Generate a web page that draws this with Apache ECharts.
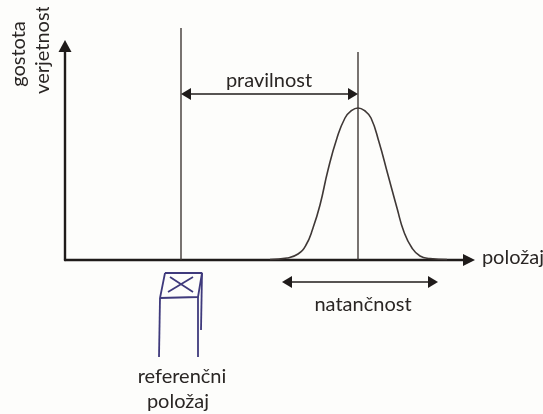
<!DOCTYPE html>
<html><head><meta charset="utf-8">
<style>html,body{margin:0;padding:0;background:#fdfdfb}#c{width:543px;height:414px}</style>
<script src="https://cdn.jsdelivr.net/npm/echarts@6/dist/echarts.min.js"></script>
</head><body><div id="c"></div>
<script>
const curveX = [205,222,233,241,248,255,263,272,280,286,293,300,306,314,323,332,339,347,355,365,382];
const curveY = [0.5,2,6,15,32,55,90,122,142,149,152,149,142,118,85,52,28,12,4,1.5,0.5];
const referenceLine = [[116,0],[116,232]];
const meanLine = [[293,0],[293,208]];
const truenessArrow = [[121,166],[288,166]];
const precisionArrow = [[222,-22],[368,-22]];
const standTop = [[100,-13],[137,-13],[133,-37],[95,-38],[100,-13]];
const standLeft = [[95,-38],[94,-97]];
const standRight = [[133,-37],[133,-97]];
const standBack = [[137,-13],[136,-70]];
const standCrossA = [[105,-17],[128,-32]];
const standCrossB = [[103,-32],[128,-17]];

const ink = '#1f1b1a', lineCol = '#3f3836', standCol = '#3f3a7c';
const font = 'Lato, "Open Sans", sans-serif';
const plain = (data, color, width) => ({type:'line', data, clip:false, symbol:'none', silent:true,
  lineStyle:{color, width}, animation:false});
const arrow = (pts) => ({type:'line', clip:false, silent:true, animation:false, showSymbol:true, showAllSymbol:true,
  lineStyle:{color:ink, width:1.6}, itemStyle:{color:ink, opacity:1},
  data:[
    {value:pts[0], symbol:'triangle', symbolSize:[12,10], symbolRotate:90},
    {value:pts[1], symbol:'triangle', symbolSize:[12,10], symbolRotate:-90}
  ]});
const text = (t, x, y, rot) => ({type:'text', x, y, rotation:rot||0,
  style:{text:t, font:'20px '+font, fill:'#2a2624', textAlign:'center', textVerticalAlign:'middle'}});

const chart = echarts.init(document.getElementById('c'), null, {renderer:'canvas'});
chart.setOption({
  animation:false,
  backgroundColor:'#fdfdfb',
  grid:{left:65, top:46, width:404, height:214},
  xAxis:{type:'value', min:0, max:404, splitLine:{show:false}, axisTick:{show:false}, axisLabel:{show:false},
    axisLine:{show:true, symbol:['none','triangle'], symbolSize:[12,12], lineStyle:{color:ink, width:2.4}}},
  yAxis:{type:'value', min:0, max:214, splitLine:{show:false}, axisTick:{show:false}, axisLabel:{show:false},
    axisLine:{show:true, symbol:['none','triangle'], symbolSize:[13,12], lineStyle:{color:ink, width:2.4}}},
  graphic:[
    text('pravilnost',269,81), text('natančnost',363,305), text('položaj',513,258),
    text('referenčni',182,377), text('položaj',178,402),
    text('gostota',19,54,Math.PI/2), text('verjetnosti',43,47,Math.PI/2),
    {type:'rect', shape:{x:0,y:0,width:543,height:7}, style:{fill:'#fdfdfb'}, z:10}
  ],
  series:[
    {type:'line', data:curveX.map((x,i)=>[x,curveY[i]]), smooth:0.5, clip:false, symbol:'none', silent:true,
     lineStyle:{color:lineCol, width:1.6}},
    plain(referenceLine, lineCol, 1.4), plain(meanLine, lineCol, 1.4),
    arrow(truenessArrow), arrow(precisionArrow),
    plain(standTop, standCol, 1.8), plain(standLeft, standCol, 1.8), plain(standRight, standCol, 1.8),
    plain(standBack, standCol, 1.8), plain(standCrossA, standCol, 1.8), plain(standCrossB, standCol, 1.8)
  ]
});
</script></body></html>
